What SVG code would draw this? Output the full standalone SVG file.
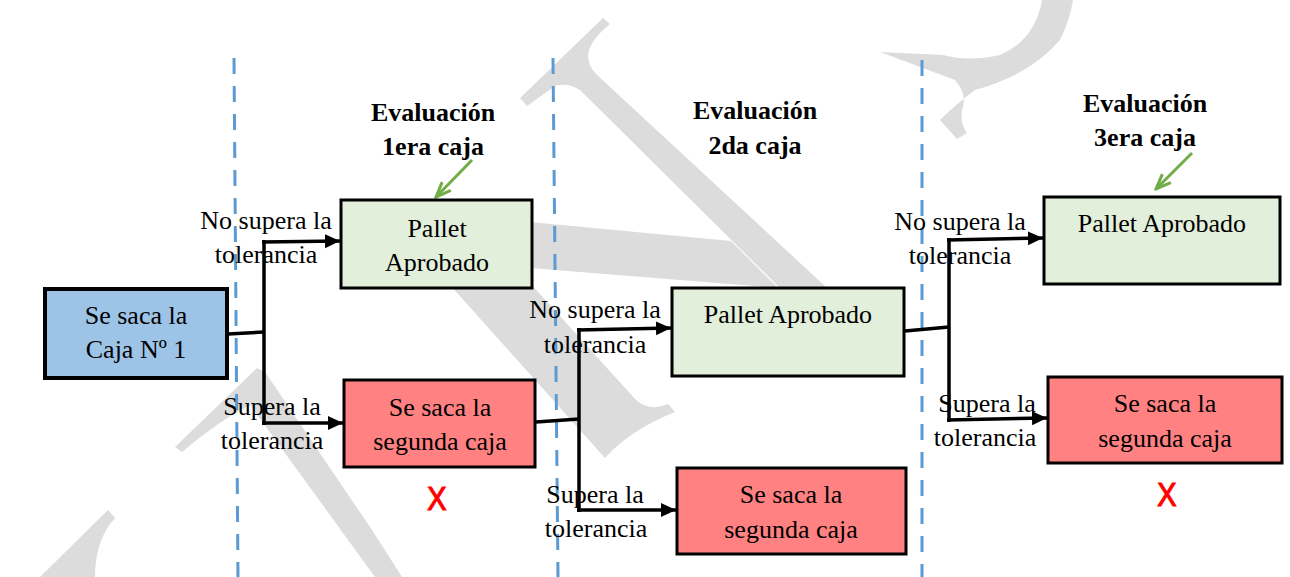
<svg xmlns="http://www.w3.org/2000/svg" width="1290" height="577" viewBox="0 0 1290 577">
<defs>
<style>
.wm{fill:#dcdcdc;stroke:none}
.div{stroke:#5b9bd5;stroke-width:3;stroke-dasharray:16 12;fill:none}
.box{stroke:#000;stroke-width:3}
.blue{fill:#9dc3e6;stroke-width:4}
.green{fill:#e2efda}
.red{fill:#ff8181}
.con{stroke:#000;stroke-width:3.5;fill:none}
.chk{stroke:#70ad47;stroke-width:3;fill:none}
</style>
<marker id="ah" markerUnits="userSpaceOnUse" markerWidth="16" markerHeight="16" viewBox="-15 -8 16 16" refX="0" refY="0" orient="auto">
<path d="M-15,-7 L0,0 L-15,7 Z" fill="#000"/>
</marker>
<marker id="gh" markerUnits="userSpaceOnUse" markerWidth="20" markerHeight="20" viewBox="-18 -10 20 20" refX="0" refY="0" orient="auto">
<path d="M-15,-6 L0,0 L-15,6" fill="none" stroke="#70ad47" stroke-width="3"/>
</marker>
</defs>
<rect width="1290" height="577" fill="#fff"/>

<g id="watermark">
<path class="wm" d="M520,98 L603,18 L610,24 Q590,40 588,55 Q588,66 596,74 L840,300 L792,300 L580,90 Q567,82 555,86 L527,106 Z"/>
<path class="wm" d="M530,222 L731,241 L778,288 L530,268 Z"/>
<path class="wm" d="M440,250 L500,250 L636,400 Q650,412 668,404 L675,412 Q630,430 605,458 L450,285 Z"/>
<path class="wm" d="M175,447 L257,368 L265,372 L372,530 L402,577 L375,577 L250,405 Q220,420 182,452 Z"/>
<path class="wm" d="M40,577 L108,510 L115,518 Q95,540 95,577 Z"/>
<path class="wm" d="M1042,0 Q1035,40 1000,55 Q970,62 943,55 L880,52 L955,80 Q968,95 962,110 Q960,124 967,133 L957,139 L940,120 Q955,105 975,90 Q1030,75 1060,40 Q1070,20 1073,0 Z"/>
</g>

<g id="dividers">
<line class="div" x1="234" y1="58" x2="238" y2="577"/>
<line class="div" x1="553" y1="58" x2="558" y2="577"/>
<line class="div" x1="922" y1="60" x2="922" y2="577"/>
</g>

<g font-family="Liberation Serif, Times New Roman, serif" font-size="26" text-anchor="middle" fill="#000">
<g id="headers" font-weight="bold">
<text x="433" y="121">Evaluación</text>
<text x="433" y="155">1era caja</text>
<text x="755" y="119">Evaluación</text>
<text x="755" y="154">2da caja</text>
<text x="1145" y="112">Evaluación</text>
<text x="1145" y="146">3era caja</text>
</g>

<g id="labels">
<text x="266" y="229">No supera la</text>
<text x="266" y="263">tolerancia</text>
<text x="272" y="415">Supera la</text>
<text x="272" y="449">tolerancia</text>
<text x="595" y="318">No supera la</text>
<text x="595" y="353">tolerancia</text>
<text x="595" y="503">Supera la</text>
<text x="596" y="537">tolerancia</text>
<text x="960" y="230">No supera la</text>
<text x="960" y="264">tolerancia</text>
<text x="987" y="412">Supera la</text>
<text x="985" y="446">tolerancia</text>
</g>
</g>

<g id="connectors">
<line class="con" x1="228" y1="334" x2="264" y2="332"/>
<line class="con" x1="264" y1="240" x2="264" y2="425"/>
<line class="con" x1="262" y1="242" x2="340" y2="241" marker-end="url(#ah)"/>
<line class="con" x1="262" y1="423" x2="343" y2="423" marker-end="url(#ah)"/>
<line class="con" x1="536" y1="422" x2="579" y2="419"/>
<line class="con" x1="579" y1="328" x2="579" y2="512"/>
<line class="con" x1="577" y1="330" x2="671" y2="328" marker-end="url(#ah)"/>
<line class="con" x1="577" y1="510" x2="676" y2="510" marker-end="url(#ah)"/>
<line class="con" x1="905" y1="331" x2="949" y2="327"/>
<line class="con" x1="949" y1="238" x2="949" y2="422"/>
<line class="con" x1="947" y1="240" x2="1043" y2="238" marker-end="url(#ah)"/>
<line class="con" x1="947" y1="420" x2="1047" y2="418" marker-end="url(#ah)"/>
<line class="chk" x1="472" y1="160" x2="436" y2="197" marker-end="url(#gh)"/>
<line class="chk" x1="1192" y1="153" x2="1156" y2="189" marker-end="url(#gh)"/>
</g>

<g font-family="Liberation Serif, Times New Roman, serif" font-size="26" text-anchor="middle" fill="#000">
<g id="n-caja1">
<rect class="box blue" x="45" y="289" width="182" height="89"/>
<text x="136" y="324">Se saca la</text>
<text x="136" y="358">Caja Nº 1</text>
</g>
<g id="n-aprobado1">
<rect class="box green" x="341" y="200" width="191" height="88"/>
<text x="437" y="237">Pallet</text>
<text x="437" y="271">Aprobado</text>
</g>
<g id="n-segunda1">
<rect class="box red" x="344" y="380" width="191" height="87"/>
<text x="440" y="416">Se saca la</text>
<text x="440" y="450">segunda caja</text>
</g>
<g id="n-aprobado2">
<rect class="box green" x="672" y="288" width="232" height="88"/>
<text x="788" y="323">Pallet Aprobado</text>
</g>
<g id="n-segunda2">
<rect class="box red" x="677" y="468" width="229" height="86"/>
<text x="791" y="503">Se saca la</text>
<text x="791" y="538">segunda caja</text>
</g>
<g id="n-aprobado3">
<rect class="box green" x="1044" y="197" width="236" height="87"/>
<text x="1162" y="232">Pallet Aprobado</text>
</g>
<g id="n-segunda3">
<rect class="box red" x="1048" y="377" width="234" height="86"/>
<text x="1165" y="412">Se saca la</text>
<text x="1165" y="447">segunda caja</text>
</g>
</g>

<g id="marks" font-family="Liberation Sans, Arial, sans-serif" font-size="34" fill="#ff0000" stroke="#ff0000" stroke-width="1.2" text-anchor="middle">
<text transform="translate(437,510) scale(0.85,1)">X</text>
<text transform="translate(1167,506) scale(0.85,1)">X</text>
</g>
</svg>
